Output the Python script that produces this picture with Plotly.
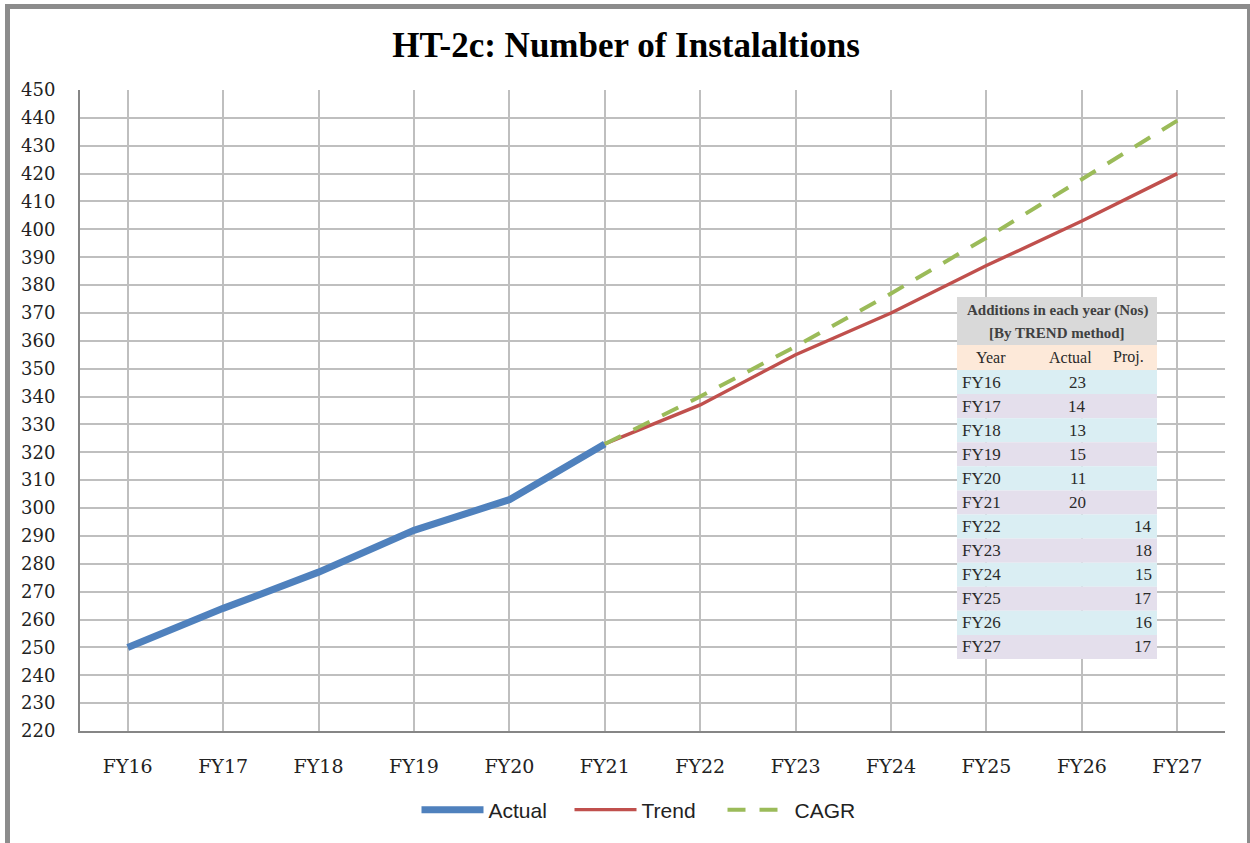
import plotly.graph_objects as go

# ---------------- data ----------------
years = ["FY16", "FY17", "FY18", "FY19", "FY20", "FY21",
         "FY22", "FY23", "FY24", "FY25", "FY26", "FY27"]
actual = [250, 264, 277, 292, 303, 323, None, None, None, None, None, None]
trend = [None, None, None, None, None, 323, 337, 355, 370, 387, 403, 420]
cagr = [None, None, None, None, None, 323, 340, 358, 377, 397, 418, 439]

table_title = ["Additions in each year (Nos)", "[By TREND method]"]
table_head = ["Year", "Actual", "Proj."]
add_actual = [23, 14, 13, 15, 11, 20, None, None, None, None, None, None]
add_proj = [None, None, None, None, None, None, 14, 18, 15, 17, 16, 17]

title_text = "HT-2c: Number of Instalaltions"
y_ticks = list(range(220, 451, 10))

# ---------------- layout geometry (pixels) ----------------
W, H = 1250, 843
L, R, T, B = 80, 1225, 90, 731


def px(x):
    return (x - L) / (R - L)


def py(y):
    return (B - y) / (B - T)


fig = go.Figure()
fig.add_trace(go.Scatter(x=years, y=actual, name="Actual", mode="lines",
                         line=dict(color="#4F81BD", width=7)))
fig.add_trace(go.Scatter(x=years, y=trend, name="Trend", mode="lines",
                         line=dict(color="#C0504D", width=3.4)))
fig.add_trace(go.Scatter(x=years, y=cagr, name="CAGR", mode="lines",
                         line=dict(color="#9BBB59", width=4, dash="18px,14px")))

shapes = []
annotations = []

# outer frame (left, top, right)
frame_col = "#8C8C8C"
shapes.append(dict(type="line", xref="paper", yref="paper", x0=px(7.5), x1=px(7.5),
                   y0=py(4), y1=py(H + 5), line=dict(color=frame_col, width=5)))
shapes.append(dict(type="line", xref="paper", yref="paper", x0=px(5), x1=px(W + 5),
                   y0=py(6.5), y1=py(6.5), line=dict(color=frame_col, width=5)))
shapes.append(dict(type="line", xref="paper", yref="paper", x0=px(1248.5), x1=px(1248.5),
                   y0=py(4), y1=py(H + 5), line=dict(color=frame_col, width=3)))

# table
tx0, tx1 = 957, 1157
c1, c2 = 1030, 1100
ty_title0, ty_title1 = 297, 345
ty_head1 = 370
row_h = (659 - ty_head1) / len(years)
text_col = "#2A2A2A"

shapes.append(dict(type="rect", xref="paper", yref="paper", layer="above",
                   x0=px(tx0), x1=px(tx1), y0=py(ty_title0), y1=py(ty_title1),
                   fillcolor="#D9D9D9", line=dict(width=0)))
shapes.append(dict(type="rect", xref="paper", yref="paper", layer="above",
                   x0=px(tx0), x1=px(tx1), y0=py(ty_title1), y1=py(ty_head1),
                   fillcolor="#FDE9D9", line=dict(width=0)))
for i, t in enumerate(table_title):
    annotations.append(dict(xref="paper", yref="paper", x=px((tx0 + tx1) / 2),
                            y=py(ty_title0 + 13 + i * 23), text="<b>" + t + "</b>",
                            showarrow=False, xanchor="center", yanchor="middle",
                            font=dict(family="Liberation Serif", size=15, color="#404040")))
head_x = [(tx0 + c1) / 2 - 3, (c1 + c2) / 2 + 5, (c2 + tx1) / 2]
for hx, h in zip(head_x, table_head):
    annotations.append(dict(xref="paper", yref="paper", x=px(hx),
                            y=py((ty_title1 + ty_head1) / 2), text=h, showarrow=False,
                            xanchor="center", yanchor="middle",
                            font=dict(family="Liberation Serif", size=16, color=text_col)))
for i, yr in enumerate(years):
    y0 = ty_head1 + i * row_h
    fill = "#DAEEF3" if i % 2 == 0 else "#E4DFEC"
    shapes.append(dict(type="rect", xref="paper", yref="paper", layer="above",
                       x0=px(tx0), x1=px(tx1), y0=py(y0), y1=py(y0 + row_h),
                       fillcolor=fill, line=dict(width=0)))
    ym = py(y0 + row_h / 2)
    annotations.append(dict(xref="paper", yref="paper", x=px(tx0 + 3), y=ym, text=yr,
                            showarrow=False, xanchor="left", yanchor="middle",
                            font=dict(family="Liberation Serif", size=17, color=text_col)))
    if add_actual[i] is not None:
        annotations.append(dict(xref="paper", yref="paper", x=px(1088), y=ym,
                                text=str(add_actual[i]), showarrow=False,
                                xanchor="right", yanchor="middle",
                                font=dict(family="Liberation Serif", size=17, color=text_col)))
    if add_proj[i] is not None:
        annotations.append(dict(xref="paper", yref="paper", x=px(1154), y=ym,
                                text=str(add_proj[i]), showarrow=False,
                                xanchor="right", yanchor="middle",
                                font=dict(family="Liberation Serif", size=17, color=text_col)))

fig.update_layout(
    width=W, height=H,
    margin=dict(l=L, r=W - R, t=T, b=H - B, pad=0),
    paper_bgcolor="white", plot_bgcolor="white",
    title=dict(text="<b>" + title_text + "</b>", x=px(626), xref="paper",
               xanchor="center", y=1 - 45 / H, yanchor="middle",
               font=dict(family="Liberation Serif", size=35, color="black")),
    showlegend=True,
    legend=dict(orientation="h", x=px(646), xanchor="center", y=py(810),
                yanchor="middle", font=dict(family="Liberation Sans", size=21, color="#222"),
                itemwidth=62, entrywidth=76, bgcolor="rgba(0,0,0,0)"),
    shapes=shapes,
    annotations=annotations,
)
fig.update_xaxes(type="category", range=[-0.5, 11.5], showgrid=True,
                 gridcolor="#BFBFBF", gridwidth=1.5, showline=True, linecolor="#868686",
                 linewidth=2, ticks="outside", ticklen=17, tickcolor="rgba(0,0,0,0)",
                 tickfont=dict(family="DejaVu Serif", size=19, color="#222"),
                 zeroline=False, fixedrange=True)
fig.update_yaxes(range=[220, 450], tickvals=y_ticks, showgrid=True,
                 gridcolor="#BFBFBF", gridwidth=1.5, showline=True, linecolor="#868686",
                 linewidth=2, ticks="outside", ticklen=19, tickcolor="rgba(0,0,0,0)",
                 tickfont=dict(family="DejaVu Serif", size=18, color="#222"),
                 zeroline=False, fixedrange=True)

fig.write_html("out.html", config={"displayModeBar": False},
               post_script="document.body.style.margin='0';")
